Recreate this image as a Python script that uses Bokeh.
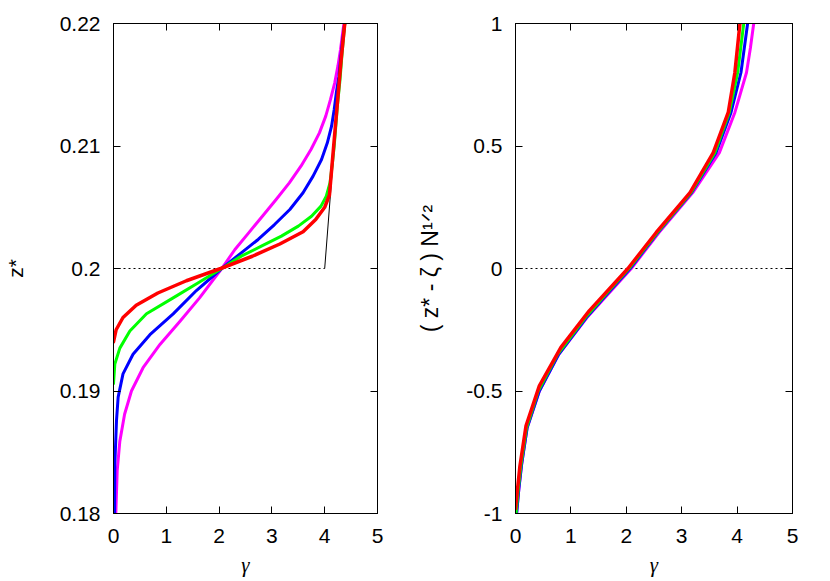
from bokeh.plotting import figure
from bokeh.layouts import row
from bokeh.models import Range1d, FixedTicker, LinearAxis
from bokeh.embed import file_html
from bokeh.resources import INLINE

# ---------------- ticks ----------------
x_ticks = [0, 1, 2, 3, 4, 5]
left_y_ticks = [0.18, 0.19, 0.2, 0.21, 0.22]
left_y_labels = ["0.18", "0.19", "0.2", "0.21", "0.22"]
right_y_ticks = [-1, -0.5, 0, 0.5, 1]
right_y_labels = ["-1", "-0.5", "0", "0.5", "1"]

# ---------------- data: left panel (gamma vs z*) ----------------
mag_z = [0.1800, 0.1835, 0.1859, 0.1881, 0.1900, 0.1919, 0.1938, 0.1957, 0.1976, 0.2000,
         0.20155, 0.20291, 0.20427, 0.20563, 0.20699, 0.20835, 0.20971, 0.21107,
         0.21244, 0.21380, 0.21516, 0.21652, 0.21788, 0.21924, 0.2200]
mag_g = [0.044, 0.07, 0.12, 0.21, 0.34, 0.56, 0.88, 1.26, 1.63, 2.05,
         2.30, 2.56, 2.82, 3.08, 3.33, 3.55, 3.74, 3.90,
         4.02, 4.11, 4.19, 4.25, 4.30, 4.34, 4.365]

blu_z = [0.1800, 0.1840, 0.1876, 0.1895, 0.1914, 0.1930, 0.1946, 0.1963, 0.1982, 0.2000,
         0.20128, 0.20237, 0.20359, 0.20482, 0.20618, 0.20754, 0.20890, 0.21026,
         0.21162, 0.21298, 0.21434, 0.21570, 0.21706, 0.21869, 0.2200]
blu_g = [0.02, 0.025, 0.057, 0.088, 0.18, 0.37, 0.69, 1.13, 1.57, 2.05,
         2.42, 2.74, 3.05, 3.34, 3.59, 3.78, 3.94, 4.05,
         4.13, 4.18, 4.22, 4.27, 4.30, 4.34, 4.38]

grn_z = [0.1906, 0.1922, 0.1935, 0.1949, 0.1963, 0.1976, 0.1989, 0.2000,
         0.20101, 0.20182, 0.20264, 0.20346, 0.20427, 0.20509, 0.20590, 0.20699,
         0.20835, 0.20999, 0.21162, 0.21325, 0.21543, 0.21761, 0.2200]
grn_g = [0.0, 0.025, 0.12, 0.31, 0.625, 1.13, 1.63, 2.05,
         2.42, 2.80, 3.18, 3.50, 3.75, 3.93, 4.03, 4.10,
         4.14, 4.18, 4.21, 4.24, 4.29, 4.33, 4.38]

red_z = [0.194, 0.195, 0.196, 0.197, 0.198, 0.199, 0.200, 0.201, 0.202, 0.203,
         0.204, 0.205, 0.206, 0.208, 0.211, 0.214, 0.217, 0.220]
red_g = [0.0, 0.05, 0.18, 0.43, 0.84, 1.38, 2.03, 2.63, 3.15, 3.59,
         3.83, 4.00, 4.09, 4.13, 4.19, 4.25, 4.31, 4.38]

# limiting curve (black): vertical at gamma=0, dotted jump at z*=0.2, then solid
lim_low_g = [0.0, 0.0]
lim_low_z = [0.18, 0.2]
lim_jump_g = [0.0, 4.0]
lim_jump_z = [0.2, 0.2]
lim_up_g = [4.0, 4.36]
lim_up_z = [0.2, 0.22]

# ---------------- data: right panel (gamma vs (z*-zeta) N^1/2) ----------------
r_mag_v = [-1.0, -0.9, -0.8, -0.65, -0.5, -0.35, -0.2, -0.1, 0.0, 0.147, 0.31, 0.473, 0.637, 0.8, 0.9, 1.0]
r_mag_g = [0.02, 0.06, 0.11, 0.21, 0.43, 0.78, 1.29, 1.69, 2.09, 2.59, 3.20, 3.68, 3.96, 4.17, 4.24, 4.30]

r_blu_v = [-1.0, -0.9, -0.8, -0.65, -0.5, -0.35, -0.2, -0.1, 0.0, 0.147, 0.31, 0.473, 0.637, 0.8, 1.0]
r_blu_g = [0.02, 0.06, 0.11, 0.21, 0.43, 0.78, 1.28, 1.67, 2.07, 2.57, 3.18, 3.62, 3.89, 4.07, 4.19]

r_grn_v = [-1.0, -0.9, -0.8, -0.65, -0.5, -0.35, -0.2, -0.1, 0.0, 0.147, 0.31, 0.473, 0.637, 0.8, 1.0]
r_grn_g = [0.01, 0.05, 0.10, 0.20, 0.41, 0.76, 1.26, 1.65, 2.05, 2.56, 3.17, 3.60, 3.86, 4.01, 4.12]

r_red_v = [-0.98, -0.806, -0.642, -0.479, -0.322, -0.173, 0.0, 0.147, 0.31, 0.473, 0.637, 0.80, 0.997]
r_red_g = [0.0, 0.08, 0.19, 0.43, 0.82, 1.33, 2.03, 2.54, 3.15, 3.57, 3.84, 3.96, 4.05]

zero_g = [0.0, 5.0]
zero_v = [0.0, 0.0]

COLORS = {"mag": "#ff00ff", "blu": "#0000ff", "grn": "#00ff00", "red": "#ff0000"}
FONT = "Liberation Sans"
FS = "21px"


def style_axis(ax, ticks, labels=None, show=True, standoff=11):
    ax.ticker = FixedTicker(ticks=ticks)
    ax.major_tick_in = 7
    ax.major_tick_out = 0
    ax.minor_tick_line_color = None
    ax.axis_line_color = "black"
    ax.major_tick_line_color = "black"
    ax.major_label_text_font = FONT
    if show:
        ax.major_label_text_color = "black"
        ax.major_label_text_font_size = FS
        ax.major_label_standoff = standoff
        if labels is not None:
            ax.major_label_overrides = {t: l for t, l in zip(ticks, labels)}
    else:
        ax.major_label_text_color = None
        ax.major_label_text_font_size = "0px"
        ax.major_label_standoff = 0


def make_fig(yr, yticks, ylabels, bl, fw, br, ylabel, ystandoff, yfs):
    p = figure(frame_width=fw, frame_height=490,
               x_range=Range1d(0, 5), y_range=Range1d(*yr),
               min_border_left=bl, min_border_right=br,
               min_border_top=23, min_border_bottom=67,
               output_backend="svg", toolbar_location=None)
    p.grid.visible = False
    p.outline_line_color = "black"
    p.outline_line_alpha = 1.0
    p.background_fill_color = "white"
    p.border_fill_color = "white"

    xax = p.xaxis[0]
    style_axis(xax, x_ticks, standoff=15)
    xax.axis_label = "γ"
    xax.axis_label_text_font = "Liberation Serif"
    xax.axis_label_text_font_style = "italic"
    xax.axis_label_text_font_size = FS
    xax.axis_label_text_color = "black"
    xax.axis_label_standoff = 7

    yax = p.yaxis[0]
    style_axis(yax, yticks, ylabels, standoff=13)
    yax.axis_label = ylabel
    yax.axis_label_text_font = FONT
    yax.axis_label_text_font_style = "normal"
    yax.axis_label_text_font_size = yfs
    yax.axis_label_text_color = "black"
    yax.axis_label_standoff = ystandoff

    top = LinearAxis()
    style_axis(top, x_ticks, show=False)
    p.add_layout(top, "above")
    rgt = LinearAxis()
    style_axis(rgt, yticks, show=False)
    p.add_layout(rgt, "right")
    return p


# ---------- left figure ----------
p1 = make_fig((0.18, 0.22), left_y_ticks, left_y_labels, 113, 264, 35, "z*", 30, FS)
p1.line(lim_low_g, lim_low_z, line_color="black", line_width=1)
p1.line(lim_jump_g, lim_jump_z, line_color="black", line_width=1, line_dash="2 3")
p1.line(lim_up_g, lim_up_z, line_color="black", line_width=1)
for g, z, c, w in [(mag_g, mag_z, "mag", 3), (blu_g, blu_z, "blu", 3),
                   (grn_g, grn_z, "grn", 3), (red_g, red_z, "red", 3.5)]:
    p1.line(g, z, line_color=COLORS[c], line_width=w, line_join="round", line_cap="round")

# ---------- right figure ----------
p2 = make_fig((-1, 1), right_y_ticks, right_y_labels, 103, 277, 30,
              "( z* - ζ ) N¹ᐟ²", 20, "23px")
p2.line(zero_g, zero_v, line_color="black", line_width=1, line_dash="2 3")
for g, v, c, w in [(r_mag_g, r_mag_v, "mag", 3), (r_blu_g, r_blu_v, "blu", 3),
                   (r_grn_g, r_grn_v, "grn", 3), (r_red_g, r_red_v, "red", 3.5)]:
    p2.line(g, v, line_color=COLORS[c], line_width=w, line_join="round", line_cap="round")

layout = row(p1, p2)
open("out.html", "w").write(file_html(layout, INLINE))
